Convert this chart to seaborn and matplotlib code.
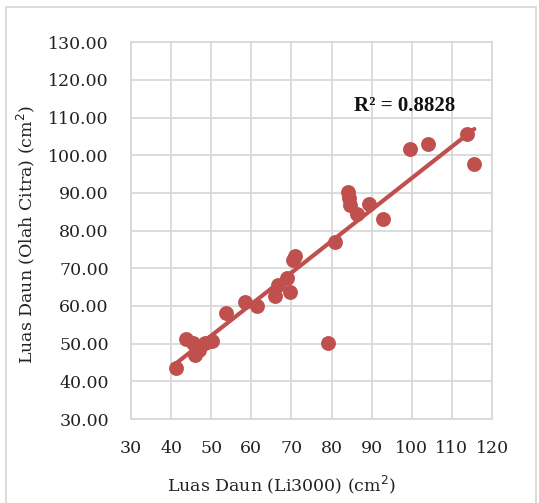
import matplotlib
matplotlib.use('Agg')
import matplotlib.pyplot as plt
import seaborn as sns
import pandas as pd
from matplotlib.patches import Rectangle

# leaf area: Li3000 meter vs image processing (cm2)
li3000 = [41.2, 43.7, 45.5, 46.0, 47.0, 48.5, 50.1, 53.7, 58.3, 61.5,
          65.9, 66.6, 68.8, 69.7, 70.3, 70.9, 79.2, 80.9, 84.2, 84.4,
          84.6, 86.3, 89.4, 92.9, 99.6, 104.1, 113.7, 115.6]
olah_citra = [43.5, 51.2, 50.1, 47.0, 48.3, 50.1, 50.8, 58.1, 61.0, 60.0,
              62.7, 65.6, 67.3, 63.8, 72.2, 73.3, 50.1, 76.9, 90.3, 88.6,
              86.8, 84.3, 87.1, 83.0, 101.7, 103.0, 105.6, 97.6]
r2_label = "R² = 0.8828"
x_ticks = list(range(30, 121, 10))
y_ticks = list(range(30, 131, 10))

df = pd.DataFrame({'li3000': li3000, 'citra': olah_citra})

sns.set_style("white")
plt.rcParams['font.family'] = ['DejaVu Serif']

red = '#C0504D'
grid_col = '#D9D9D9'

fig = plt.figure(figsize=(5.39, 5.03), dpi=100)
ax = fig.add_axes([131/539, 1 - 419/503, (492 - 131)/539, (419 - 42.3)/503])

sns.regplot(data=df, x='li3000', y='citra', ax=ax, ci=None, truncate=True,
            color=red,
            scatter_kws={'s': 115, 'alpha': 1, 'linewidths': 0, 'zorder': 3},
            line_kws={'linewidth': 3, 'zorder': 4, 'solid_capstyle': 'round'})

ax.set_xlim(30, 120)
ax.set_ylim(30, 130)
ax.set_xticks(x_ticks)
ax.set_yticks(y_ticks)
ax.set_yticklabels([f'{v:.2f}' for v in y_ticks])
ax.grid(True, color=grid_col, linewidth=1.3)
ax.set_axisbelow(True)
for s in ax.spines.values():
    s.set_color(grid_col)
    s.set_linewidth(1.3)
ax.tick_params(axis='both', length=0, labelsize=12.5, colors='#222222')
ax.tick_params(axis='y', pad=16)
ax.tick_params(axis='x', pad=15)
ax.set_xlabel('')
ax.set_ylabel('')

ax.text(98.3, 113.2, r2_label, fontsize=15, fontweight='bold',
        family='Liberation Serif', ha='center', va='center', color='#111111')

fig.text(281/539, 1 - 485/503, 'Luas Daun (Li3000) (cm$^2$)', ha='center', va='center',
         fontsize=12.5, color='#222222')
fig.text(26/539, 1 - 235/503, 'Luas Daun (Olah Citra) (cm$^2$)', ha='center', va='center',
         rotation=90, fontsize=12.5, color='#222222')

# outer chart border
fig.patches.append(Rectangle((6/539, -0.01), (537 - 6)/539 - 0.001, 1 - 7/503 + 0.01,
                             transform=fig.transFigure, fill=False,
                             edgecolor=grid_col, linewidth=1.3))

fig.savefig('out.png', dpi=100)
